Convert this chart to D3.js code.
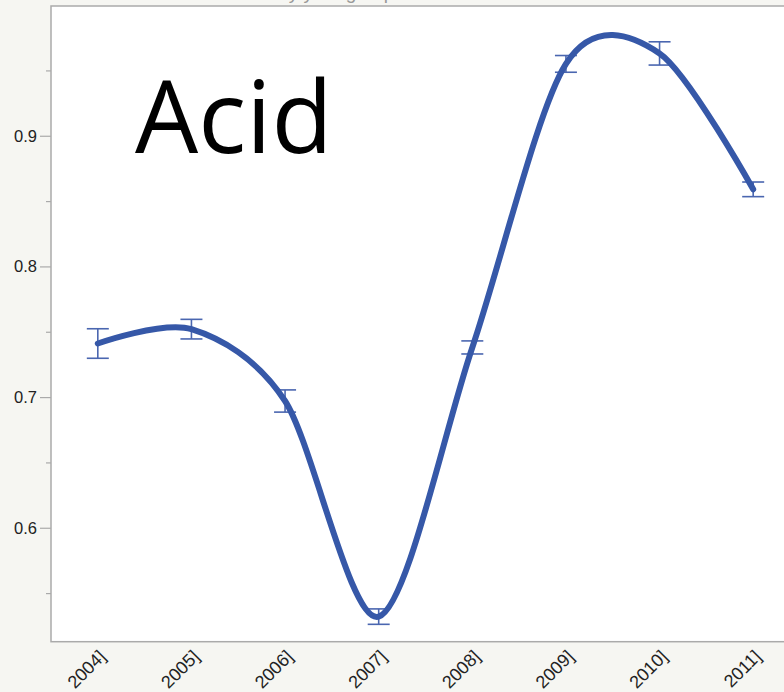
<!DOCTYPE html>
<html>
<head>
<meta charset="utf-8">
<script src="https://cdn.jsdelivr.net/npm/d3@7"></script>
<style>
  body { margin: 0; background: #f6f6f2; }
  svg { display: block; }
</style>
</head>
<body>
<script>
const width = 784;
const height = 692;

// データ
const years = ["2004", "2005", "2006", "2007", "2008", "2009", "2010", "2011"];
const xLabels = ["2004]", "2005]", "2006]", "2007]", "2008]", "2009]", "2010]", "2011]"];
const means = [0.741, 0.752, 0.697, 0.532, 0.738, 0.955, 0.963, 0.859];
const errs = [0.0113, 0.0075, 0.0085, 0.0059, 0.005, 0.0064, 0.0089, 0.0056];
const majorTicks = [0.6, 0.7, 0.8, 0.9];
const minorTicks = [0.55, 0.65, 0.75, 0.85, 0.95];

const svg = d3.select("body").append("svg")
  .attr("width", width)
  .attr("height", height);

// 枠の位置
const pLeft = 51, pTop = 6, pBottom = 641.7, pRight = 800;

const x = d3.scalePoint()
  .domain(years)
  .range([pLeft, pRight])
  .padding(0.5);

const y = d3.scaleLinear()
  .domain([0.5128, 0.9993])
  .range([pBottom, pTop]);

// タイトル（上で切れている）
svg.append("text")
  .attr("x", 236)
  .attr("y", -1)
  .style("font-family", "Liberation Sans, Arial, sans-serif")
  .style("font-size", "19px")
  .attr("fill", "#999")
  .text("Acid by year group");

// プロット領域
svg.append("rect")
  .attr("x", pLeft)
  .attr("y", pTop)
  .attr("width", pRight - pLeft)
  .attr("height", pBottom - pTop)
  .attr("fill", "white")
  .attr("stroke", "#aaa")
  .attr("stroke-width", 1.5);

// Y軸
const yAxis = svg.append("g")
  .attr("transform", `translate(${pLeft},0)`)
  .call(d3.axisLeft(y).tickValues(majorTicks).tickSize(11).tickPadding(3).tickFormat(d3.format(".1f")));
yAxis.select(".domain").remove();
yAxis.selectAll("line").attr("stroke", "#aaa").attr("stroke-width", 1.2);
yAxis.selectAll("text")
  .style("font-family", "Liberation Sans, Arial, sans-serif")
  .style("font-size", "16.5px")
  .attr("fill", "#222");

const yMinor = svg.append("g")
  .attr("transform", `translate(${pLeft},0)`)
  .call(d3.axisLeft(y).tickValues(minorTicks).tickSize(5).tickFormat(""));
yMinor.select(".domain").remove();
yMinor.selectAll("line").attr("stroke", "#aaa").attr("stroke-width", 1.2);

// X軸ラベル（回転）
svg.append("g")
  .selectAll("text")
  .data(years)
  .join("text")
  .attr("transform", d => `translate(${x(d) + 9},${pBottom + 16}) rotate(-45)`)
  .attr("text-anchor", "end")
  .style("font-family", "Liberation Sans, Arial, sans-serif")
  .style("font-size", "18px")
  .attr("fill", "#222")
  .text((d, i) => xLabels[i]);

// 大きな文字
svg.append("text")
  .attr("x", 135)
  .attr("y", 153)
  .style("font-family", "Open Sans, sans-serif")
  .style("font-size", "100px")
  .attr("fill", "black")
  .text("Acid");

// エラーバー
const eb = svg.append("g")
  .attr("stroke", "#4a66b0")
  .attr("stroke-width", 1.6)
  .attr("fill", "none");

years.forEach((d, i) => {
  const cx = x(d);
  const y1 = y(means[i] + errs[i]);
  const y2 = y(means[i] - errs[i]);
  eb.append("line").attr("x1", cx).attr("x2", cx).attr("y1", y1).attr("y2", y2);
  eb.append("line").attr("x1", cx - 11).attr("x2", cx + 11).attr("y1", y1).attr("y2", y1);
  eb.append("line").attr("x1", cx - 11).attr("x2", cx + 11).attr("y1", y2).attr("y2", y2);
});

// 平滑線
const line = d3.line()
  .x((d, i) => x(years[i]))
  .y(d => y(d))
  .curve(d3.curveCardinal.tension(0.1));

svg.append("path")
  .datum(means)
  .attr("d", line)
  .attr("fill", "none")
  .attr("stroke", "#3658a8")
  .attr("stroke-width", 6)
  .attr("stroke-linecap", "round");
</script>
</body>
</html>
